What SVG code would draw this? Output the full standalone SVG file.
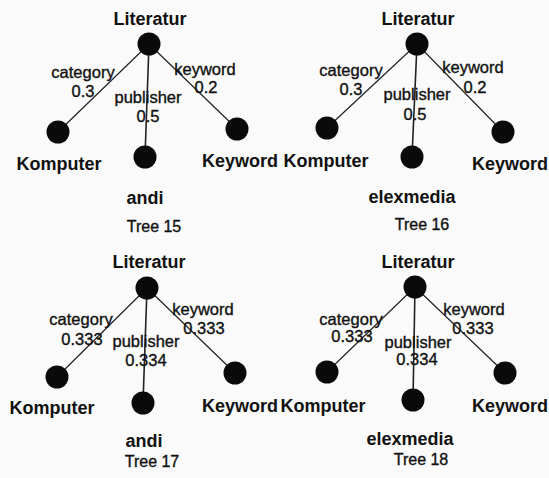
<svg xmlns="http://www.w3.org/2000/svg" width="549" height="478" viewBox="0 0 549 478">
<style>
.bg{fill:#fafafa}
.node{fill:#0a0a0a}
.nl{font-family:"Liberation Sans",Arial,sans-serif;font-size:18px;font-weight:bold;fill:#111;text-anchor:middle}
.el{font-family:"Liberation Sans",Arial,sans-serif;font-size:16.5px;fill:#111;stroke:#111;stroke-width:0.35;text-anchor:middle}
.tl{font-family:"Liberation Sans",Arial,sans-serif;font-size:16px;fill:#111;stroke:#111;stroke-width:0.35;text-anchor:middle}
.edge{stroke:#222;stroke-width:1.2;fill:none}
.v{stroke-width:1.6}
</style>
<rect class="bg" x="0" y="0" width="549" height="478"/>
<g id="connectors">
  <line class="edge" x1="149" y1="44" x2="58" y2="132"/>
  <line class="edge v" x1="149" y1="44" x2="145" y2="157"/>
  <line class="edge" x1="149" y1="44" x2="237" y2="129"/>
  <line class="edge" x1="417" y1="44" x2="327" y2="128"/>
  <line class="edge v" x1="417" y1="44" x2="412" y2="157"/>
  <line class="edge" x1="417" y1="44" x2="503" y2="132"/>
  <line class="edge" x1="147" y1="288" x2="57" y2="377"/>
  <line class="edge v" x1="147" y1="288" x2="143" y2="403"/>
  <line class="edge" x1="147" y1="288" x2="235" y2="373"/>
  <line class="edge" x1="415" y1="287" x2="327" y2="372"/>
  <line class="edge v" x1="415" y1="287" x2="413" y2="400"/>
  <line class="edge" x1="415" y1="287" x2="505" y2="373"/>
</g>
<g id="edge-labels">
  <text class="el" x="83" y="78">category</text>
  <text class="el" x="83" y="97">0.3</text>
  <text class="el" x="148" y="103">publisher</text>
  <text class="el" x="148" y="122">0.5</text>
  <text class="el" x="205" y="75">keyword</text>
  <text class="el" x="206" y="93">0.2</text>
  <text class="el" x="351" y="76">category</text>
  <text class="el" x="351" y="95">0.3</text>
  <text class="el" x="417" y="100">publisher</text>
  <text class="el" x="415" y="120">0.5</text>
  <text class="el" x="473" y="73">keyword</text>
  <text class="el" x="475" y="93">0.2</text>
  <text class="el" x="81" y="325">category</text>
  <text class="el" x="82" y="345">0.333</text>
  <text class="el" x="146" y="347">publisher</text>
  <text class="el" x="146" y="366">0.334</text>
  <text class="el" x="203" y="315">keyword</text>
  <text class="el" x="204" y="334">0.333</text>
  <text class="el" x="351" y="325">category</text>
  <text class="el" x="352" y="342">0.333</text>
  <text class="el" x="418" y="348">publisher</text>
  <text class="el" x="417" y="365">0.334</text>
  <text class="el" x="474" y="315">keyword</text>
  <text class="el" x="473" y="334">0.333</text>
</g>
<g id="t15-root"><circle class="node" cx="149" cy="44" r="11.5"/><text class="nl" x="150" y="25">Literatur</text></g>
<g id="t15-komputer"><circle class="node" cx="58" cy="132" r="11.5"/><text class="nl" x="59" y="170">Komputer</text></g>
<g id="t15-andi"><circle class="node" cx="145" cy="157" r="11.5"/><text class="nl" x="145" y="204">andi</text></g>
<g id="t15-keyword"><circle class="node" cx="237" cy="129" r="11.5"/><text class="nl" x="240" y="167">Keyword</text></g>
<g id="t15-caption"><text class="tl" x="154" y="232">Tree 15</text></g>
<g id="t16-root"><circle class="node" cx="417" cy="44" r="11.5"/><text class="nl" x="418" y="25">Literatur</text></g>
<g id="t16-komputer"><circle class="node" cx="327" cy="128" r="11.5"/><text class="nl" x="326" y="167">Komputer</text></g>
<g id="t16-elexmedia"><circle class="node" cx="412" cy="157" r="11.5"/><text class="nl" x="412" y="203">elexmedia</text></g>
<g id="t16-keyword"><circle class="node" cx="503" cy="132" r="11.5"/><text class="nl" x="510" y="170">Keyword</text></g>
<g id="t16-caption"><text class="tl" x="422" y="230">Tree 16</text></g>
<g id="t17-root"><circle class="node" cx="147" cy="288" r="11.5"/><text class="nl" x="149" y="268">Literatur</text></g>
<g id="t17-komputer"><circle class="node" cx="57" cy="377" r="11.5"/><text class="nl" x="52" y="414">Komputer</text></g>
<g id="t17-andi"><circle class="node" cx="143" cy="403" r="11.5"/><text class="nl" x="144" y="447">andi</text></g>
<g id="t17-keyword"><circle class="node" cx="235" cy="373" r="11.5"/><text class="nl" x="240" y="412">Keyword</text></g>
<g id="t17-caption"><text class="tl" x="152" y="467">Tree 17</text></g>
<g id="t18-root"><circle class="node" cx="415" cy="287" r="11.5"/><text class="nl" x="418" y="268">Literatur</text></g>
<g id="t18-komputer"><circle class="node" cx="327" cy="372" r="11.5"/><text class="nl" x="323" y="412">Komputer</text></g>
<g id="t18-elexmedia"><circle class="node" cx="413" cy="400" r="11.5"/><text class="nl" x="410" y="445">elexmedia</text></g>
<g id="t18-keyword"><circle class="node" cx="505" cy="373" r="11.5"/><text class="nl" x="510" y="412">Keyword</text></g>
<g id="t18-caption"><text class="tl" x="421" y="465">Tree 18</text></g>
</svg>
